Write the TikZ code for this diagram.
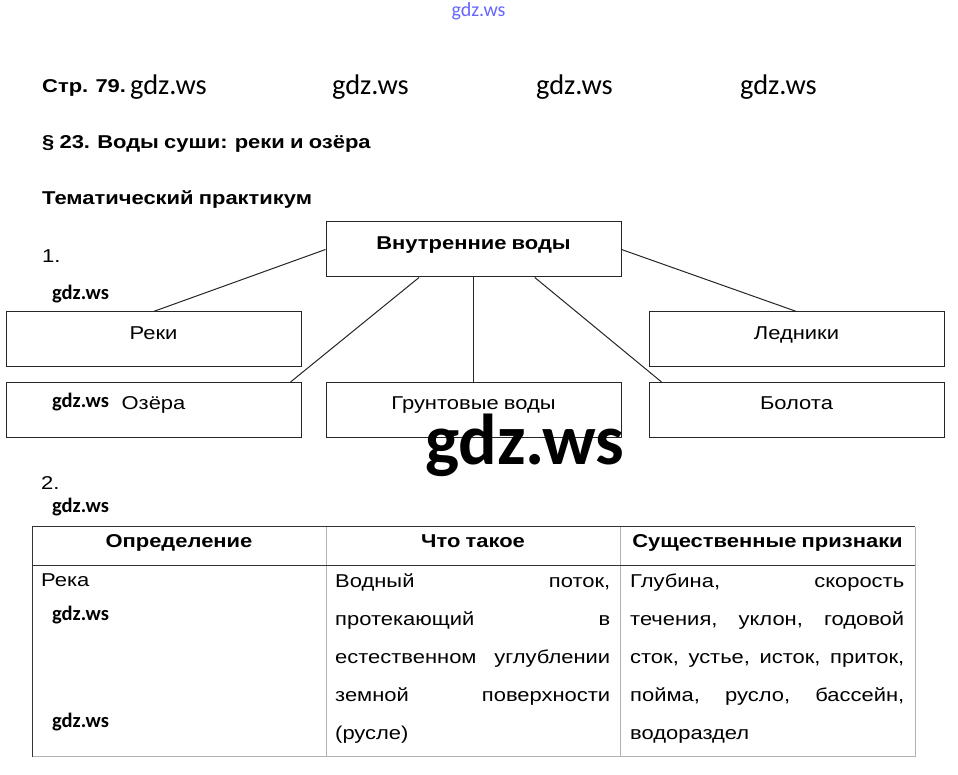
\documentclass[tikz,border=0pt]{standalone}
\usepackage{fontspec}
\setmainfont{Liberation Sans}[FakeStretch=1.18,WordSpace=0.85]
\newfontfamily\gdzfont{Carlito}
\newcommand\textsz{\fontsize{18.6bp}{22bp}\selectfont}
\usetikzlibrary{calc}
\tikzset{
  box/.style={draw=black!85,line width=1bp,minimum width=295bp,minimum height=55bp,inner sep=0pt,text height=27.5bp,text depth=27.5bp},
  link/.style={draw=black!85,line width=1bp},
  txt/.style={anchor=base west,inner sep=0pt},
  bold/.style={font=\textsz\bfseries},
  wm/.style={anchor=base west,inner sep=0pt,font=\gdzfont\bfseries\fontsize{20.5bp}{21bp}\selectfont},
  bigwm/.style={wm,font=\gdzfont\fontsize{28.4bp}{28bp}\selectfont},
  head/.style={anchor=base,inner sep=0pt,bold},
  cell/.style={anchor=base west,align=left,inner sep=0pt,font=\fontsize{18.6bp}{38bp}\selectfont},
  tabdark/.style={draw=black!80,line width=1bp},
  tablight/.style={draw=black!30,line width=1bp},
}
\begin{document}
\begin{tikzpicture}[font=\textsz]
\fill [white,use as bounding box] (0bp,0bp) rectangle (958bp,775bp);
%% heading
\node (site) at (478.5bp,758bp) [anchor=base,inner sep=0pt,text=blue!60,font=\gdzfont\fontsize{20bp}{20bp}\selectfont] {gdz.ws};
\node (page) at (42bp,682bp) [txt,bold] {Стр. 79.};
\node (wm_1) at (130bp,680bp) [bigwm] {gdz.ws};
\node (wm_2) at (332bp,680bp) [bigwm] {gdz.ws};
\node (wm_3) at (536bp,680bp) [bigwm] {gdz.ws};
\node (wm_4) at (740bp,680bp) [bigwm] {gdz.ws};
\node (para) at (42bp,626bp) [txt,bold] {§ 23. Воды суши: реки и озёра};
\node (prac) at (42bp,570bp) [txt,bold] {Тематический практикум};
%% task 1
\node (task_1) at (42bp,512bp) [txt] {1.};
\node (wm_5) at (52bp,475bp) [wm] {gdz.ws};
\node (top) at (473.5bp,525.5bp) [box,bold] {Внутренние воды};
\node (reki) at (153.5bp,435.5bp) [box] {Реки};
\node (led) at (796.5bp,435.5bp) [box] {Ледники};
\node (ozera) at (153.5bp,365bp) [box] {Озёра};
\node (grunt) at (473.5bp,365bp) [box] {Грунтовые воды};
\node (bolota) at (796.5bp,365bp) [box] {Болота};
\node (wm_6) at (52bp,367bp) [wm] {gdz.ws};
\draw [link] (top.west) -- (reki.north);
\draw [link] (top.east) -- (led.north);
\draw [link] ($(top.south west)!0.316!(top.south east)$) -- ($(ozera.north west)!0.963!(ozera.north east)$);
\draw [link] (top.south) -- (grunt.north);
\draw [link] ($(top.south west)!0.707!(top.south east)$) -- ($(bolota.north west)!0.044!(bolota.north east)$);
\node (wm_big) at (425bp,310bp) [wm,font=\gdzfont\bfseries\fontsize{72bp}{72bp}\selectfont] {gdz.ws};
%% task 2
\node (task_2) at (41bp,285bp) [txt] {2.};
\node (wm_7) at (52bp,262bp) [wm] {gdz.ws};
\draw [tablight] (326bp,18bp) -- (326bp,248bp);
\draw [tablight] (620bp,18bp) -- (620bp,248bp);
\draw [tablight] (915bp,18bp) -- (915bp,248bp);
\draw [tablight] (32bp,18bp) -- (915bp,18bp);
\draw [tabdark] (32bp,18bp) -- (32bp,248bp) -- (915bp,248bp);
\draw [tabdark] (32bp,209bp) -- (915bp,209bp);
\node (def) at (179bp,227bp) [head] {Определение};
\node (what) at (473bp,227bp) [head] {Что такое};
\node (feat) at (767.5bp,227bp) [head] {Существенные признаки};
\node (reka) at (41bp,188bp) [txt] {Река};
\node (what_1) at (335bp,36bp) [cell] {\makebox[275bp][s]{Водный поток,}\\ \makebox[275bp][s]{протекающий в}\\ \makebox[275bp][s]{естественном углублении}\\ \makebox[275bp][s]{земной поверхности}\\ (русле)};
\node (feat_1) at (630bp,36bp) [cell] {\makebox[274bp][s]{Глубина, скорость}\\ \makebox[274bp][s]{течения, уклон, годовой}\\ \makebox[274bp][s]{сток, устье, исток, приток,}\\ \makebox[274bp][s]{пойма, русло, бассейн,}\\ водораздел};
\node (wm_8) at (52bp,154bp) [wm] {gdz.ws};
\node (wm_9) at (52bp,47bp) [wm] {gdz.ws};
%
\end{tikzpicture}
\end{document}
